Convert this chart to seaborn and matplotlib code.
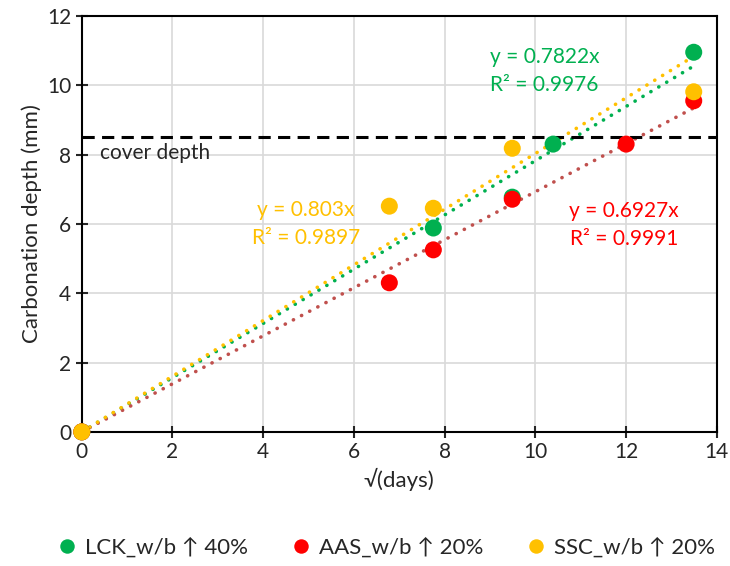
import numpy as np
import pandas as pd
import matplotlib
matplotlib.use('Agg')
import matplotlib.pyplot as plt
import seaborn as sns

# data
lck_x = [0, 7.75, 9.49, 10.39, 13.49]
lck_y = [0, 5.88, 6.77, 8.30, 10.95]
aas_x = [0, 6.78, 7.75, 9.49, 12.0, 13.49]
aas_y = [0, 4.30, 5.25, 6.71, 8.30, 9.55]
ssc_x = [0, 6.78, 7.75, 9.49, 13.49]
ssc_y = [0, 6.51, 6.45, 8.18, 9.81]

labels = ['LCK_w/b ↑ 40%', 'AAS_w/b ↑ 20%', 'SSC_w/b ↑ 20%']
slopes = [0.7822, 0.6927, 0.803]
r2 = [0.9976, 0.9991, 0.9897]
cover_depth = 8.5

sns.set_style('white')
plt.rcParams['font.family'] = ['Lato', 'DejaVu Sans']

df = pd.concat([
    pd.DataFrame({'x': lck_x, 'y': lck_y, 'mix': labels[0]}),
    pd.DataFrame({'x': aas_x, 'y': aas_y, 'mix': labels[1]}),
    pd.DataFrame({'x': ssc_x, 'y': ssc_y, 'mix': labels[2]}),
])

colors = {labels[0]: '#00B050', labels[1]: '#FF0000', labels[2]: '#FFC000'}
trend_colors = ['#00B050', '#C0504D', '#FFC000']

fig = plt.figure(figsize=(7.3, 5.66), dpi=100)
ax = fig.add_axes([0.112, 0.237, 0.870, 0.735])

ax.grid(True, color='#D9D9D9', linewidth=1.2)
ax.set_axisbelow(True)

# linear trendlines through origin
xt = np.linspace(0, 13.49, 50)
for s, c in zip(slopes, trend_colors):
    ax.plot(xt, s * xt, linestyle=(0, (0.05, 2.5)), dash_capstyle='round',
            color=c, linewidth=2.6, zorder=2)

sns.scatterplot(data=df, x='x', y='y', hue='mix', palette=colors, s=150,
                edgecolor='none', ax=ax, zorder=3, clip_on=False)

ax.axhline(cover_depth, color='black', linestyle=(0, (4, 2.4)), linewidth=2.2, zorder=2)
ax.text(0.4, 8.05, 'cover depth', fontsize=15, va='center', ha='left')

ax.text(10.2, 10.8, 'y = %.4fx' % slopes[0], color='#00B050', fontsize=15, ha='center', va='center')
ax.text(10.2, 10.0, 'R² = %.4f' % r2[0], color='#00B050', fontsize=15, ha='center', va='center')
ax.text(11.95, 6.37, 'y = %.4fx' % slopes[1], color='#FF0000', fontsize=15, ha='center', va='center')
ax.text(11.95, 5.57, 'R² = %.4f' % r2[1], color='#FF0000', fontsize=15, ha='center', va='center')
ax.text(4.94, 6.4, 'y = %.3fx' % slopes[2], color='#FFC000', fontsize=15, ha='center', va='center')
ax.text(4.94, 5.6, 'R² = %.4f' % r2[2], color='#FFC000', fontsize=15, ha='center', va='center')

ax.set_xlim(0, 14)
ax.set_ylim(0, 12)
ax.set_xticks(np.arange(0, 15, 2))
ax.set_yticks(np.arange(0, 13, 2))
ax.tick_params(axis='both', direction='inout', length=8, width=1.5, labelsize=15,
               bottom=True, left=True)
for sp in ax.spines.values():
    sp.set_color('black')
    sp.set_linewidth(1.5)
ax.set_xlabel('√(days)', fontsize=16)
ax.set_ylabel('Carbonation depth (mm)', fontsize=16)

handles, lbls = ax.get_legend_handles_labels()
ax.legend(handles, lbls, loc='lower center', bbox_to_anchor=(0.48, -0.35),
          ncol=3, frameon=False, fontsize=16, handlelength=0.8, handletextpad=0.4,
          columnspacing=2.0, markerscale=0.85)

fig.savefig('out.png', dpi=100)
